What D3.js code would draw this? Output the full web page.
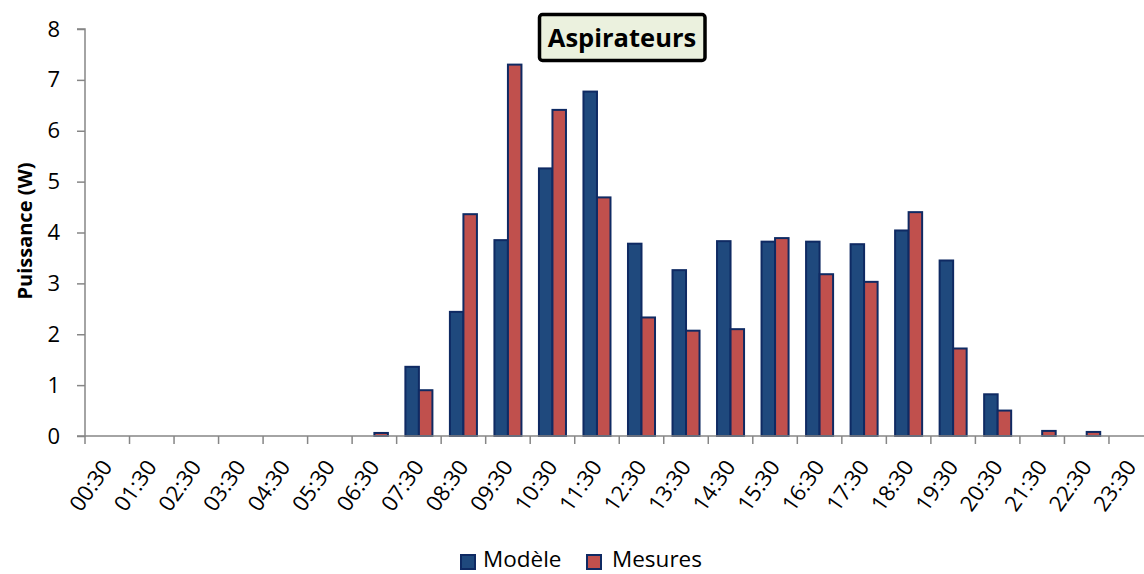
<!DOCTYPE html>
<html><head><meta charset="utf-8">
<script src="https://cdn.jsdelivr.net/npm/d3@7"></script>
<style>
body{margin:0;background:#fff;}
text{font-family:"Open Sans",sans-serif;}
</style></head>
<body><svg id="c" width="1144" height="574"></svg>
<script>
const categories = ["00:30","01:30","02:30","03:30","04:30","05:30","06:30","07:30","08:30","09:30","10:30","11:30","12:30","13:30","14:30","15:30","16:30","17:30","18:30","19:30","20:30","21:30","22:30","23:30"];
const modele  = [0,0,0,0,0,0,0,1.36,2.44,3.85,5.26,6.77,3.78,3.26,3.83,3.82,3.82,3.77,4.04,3.45,0.82,0,0,0];
const mesures = [0,0,0,0,0,0,0.06,0.90,4.36,7.30,6.41,4.69,2.33,2.07,2.10,3.89,3.18,3.03,4.40,1.72,0.50,0.10,0.08,0];
const seriesNames = ["Modèle","Mesures"];
const seriesColors = ["#1f497d","#c0504d"];
const yTicks = [0,1,2,3,4,5,6,7,8];
const chartTitle = "Aspirateurs";
const yLabel = "Puissance (W)";

(function(){
const svg = d3.select("#c");
const mLeft = 85, mTop = 29, mBottom = 436, step = 44.52;
const mRight = mLeft + step*categories.length;
const axisColor = "#868686";

const x = d3.scaleBand().domain(categories).range([mLeft,mRight]).paddingInner(0.393).paddingOuter(0.1965);
const xs = d3.scaleBand().domain(seriesNames).range([0,x.bandwidth()]);
const y = d3.scaleLinear().domain([0,8]).range([mBottom,mTop]);

const data = [modele, mesures];
seriesNames.forEach((s,si)=>{
  svg.append("g").selectAll("rect").data(categories.map((c,i)=>({c,v:data[si][i]})).filter(d=>d.v>0))
    .join("rect")
    .attr("x",d=>x(d.c)+xs(s))
    .attr("y",d=>y(d.v))
    .attr("width",xs.bandwidth())
    .attr("height",d=>y(0)-y(d.v))
    .attr("fill",seriesColors[si])
    .attr("stroke","#0f2a63").attr("stroke-width",2);
});

const ya = svg.append("g").attr("transform",`translate(${mLeft},0)`)
  .call(d3.axisLeft(y).tickValues(yTicks).tickSize(8).tickPadding(17).tickFormat(d3.format("d")));
ya.select(".domain").attr("stroke",axisColor).attr("stroke-width",1.5).attr("d",`M-8,${mTop}H0V${mBottom}H-8`);
ya.selectAll(".tick line").attr("stroke",axisColor).attr("stroke-width",1.5);
ya.selectAll(".tick text").attr("font-size",22).attr("fill","#000").style("font-family","Open Sans");

const xa = svg.append("g").attr("transform",`translate(0,${mBottom})`);
xa.append("line").attr("x1",mLeft).attr("x2",mRight).attr("y1",0).attr("y2",0).attr("stroke",axisColor).attr("stroke-width",1.5);
const boundaries = d3.range(categories.length+1).map(i=>x.step()*i + mLeft);
xa.selectAll("line.tk").data(boundaries).join("line").attr("class","tk")
  .attr("x1",d=>d).attr("x2",d=>d).attr("y1",0).attr("y2",8).attr("stroke",axisColor).attr("stroke-width",1.5);
xa.selectAll("text").data(categories).join("text")
  .attr("transform",d=>`translate(${x(d)+x.bandwidth()/2+6},${31}) rotate(-55)`)
  .attr("text-anchor","end")
  .attr("font-size",22).attr("fill","#000").text(d=>d);

svg.append("text").attr("transform",`translate(32,${231}) rotate(-90)`)
  .attr("text-anchor","middle").attr("font-size",20).attr("font-weight","bold").text(yLabel);

svg.append("rect").attr("x",539.5).attr("y",14.5).attr("width",165.5).attr("height",46).attr("rx",3)
  .attr("fill","#ebf1de").attr("stroke","#000").attr("stroke-width",3.5);
svg.append("text").attr("x",622).attr("y",47).attr("text-anchor","middle")
  .attr("font-size",25.5).attr("font-weight","bold").text(chartTitle);

const legX = [461, 587];
const legTX = [483, 612];
seriesNames.forEach((s,i)=>{
  svg.append("rect").attr("x",legX[i]).attr("y",555).attr("width",14).attr("height",14)
    .attr("fill",seriesColors[i]).attr("stroke","#0f2a63").attr("stroke-width",2);
  svg.append("text").attr("x",legTX[i]).attr("y",567).attr("font-size",22.5).text(s);
});
})();
</script></body></html>
